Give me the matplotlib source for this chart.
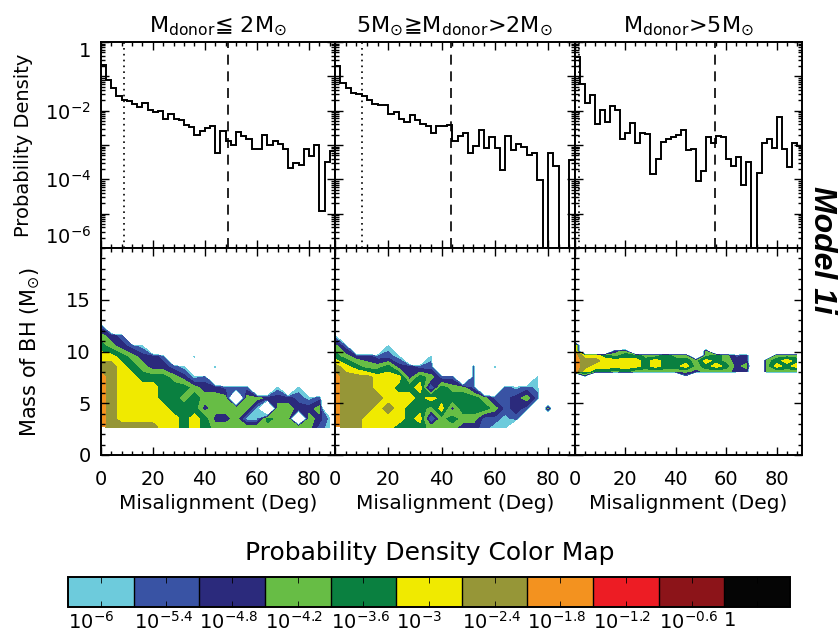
import numpy as np
import matplotlib
matplotlib.use("Agg")
import matplotlib.pyplot as plt
from matplotlib.colors import ListedColormap, BoundaryNorm
from matplotlib.ticker import FixedLocator, MultipleLocator, LogLocator, NullFormatter
import matplotlib.cm as cm

# ---------------- data ----------------
panel_titles = [r'M$_{\mathrm{donor}}$≦ 2M$_{\odot}$',
                r'5M$_{\odot}$≧M$_{\mathrm{donor}}$>2M$_{\odot}$',
                r'M$_{\mathrm{donor}}$>5M$_{\odot}$']

bin_edges = np.arange(0, 91, 2)

# log10 of probability density per 2 deg bin, None = empty bin
hist1 = [-0.68, -1.11, -1.35, -1.57, -1.69, -1.72, -1.82, -1.88, -1.77, -1.98,
         -2.05, -2.01, -2.24, -2.11, -2.24, -2.27, -2.42, -2.48, -2.71, -2.58,
         -2.51, -2.44, -3.24, -2.58, -2.87, -3.00, -2.61, -2.75, -2.82, -3.11,
         -3.11, -2.71, -3.00, -2.87, -2.98, -3.11, -3.67, -3.51, -3.59, -3.11,
         -3.33, -3.00, -4.93, -3.50, -3.17]
hist2 = [-0.70, -1.19, -1.35, -1.48, -1.50, -1.57, -1.69, -1.82, -1.84, -1.84,
         -2.10, -2.03, -2.25, -2.32, -2.13, -2.27, -2.40, -2.44, -2.64, -2.46,
         -2.46, -2.43, -2.87, -2.75, -2.66, -3.22, -3.04, -2.56, -3.09, -2.78,
         -3.09, -3.72, -2.73, -3.14, -2.97, -3.07, -3.29, -3.24, -4.03, None,
         -3.22, -3.60, None, None, -3.43]
hist3 = [-0.45, -1.21, -1.77, -1.53, -2.39, -1.98, -2.34, -1.86, -1.98, -2.83,
         -2.64, -2.35, -2.95, -2.64, -2.69, -3.84, -3.40, -2.90, -2.82, -2.78,
         -2.71, -2.56, -3.16, -3.12, -4.06, -3.77, -2.77, -2.95, -2.73, -2.78,
         -3.40, -3.62, -3.35, -4.16, -3.50, None, -3.82, -2.95, -2.83, -3.09,
         -2.19, -3.12, -3.64, -2.93, -3.02]

dotted_x = [8.8, 10.1, 1.8]
dashed_x = [48.8, 43.4, 55.4]

# 2D map: misalignment columns (deg) and BH mass rows (Msun)
mis_grid = np.arange(0, 89, 4)
mass_grid12 = [14.5, 13.5, 12.5, 11.5, 10.5, 9.5, 8.5, 7.5, 6.5, 5.5, 4.5, 3.5, 2.7]
mass_grid3 = [11.2, 10.6, 10.0, 9.6, 9.1, 8.6, 8.1, 7.7, 7.2]

# colour level index per cell ('.' = below 1e-6), top row = largest mass
map1 = [".......................",
        ".......................",
        "1......................",
        "321....................",
        "43210..................",
        "5543221..0.............",
        "665432210..0...........",
        "76554443201............",
        "765555444322111..0.0...",
        "7655554434333.33222101.",
        "7655555444233330.33223.",
        "7655555545422300433.320",
        "76666655454333333333310"]
map2 = [".......................",
        ".......................",
        ".......................",
        "0......................",
        "31...0.................",
        "4322110..0.............",
        "6543342211...1.0.......",
        "766655524311.1.....0...",
        "76665544504331..1010...",
        "76666555454444311231...",
        "7666565443524443121.3..",
        "766555545034331101.....",
        "76655544433322100......"]
map3 = [".......................",
        "7......................",
        "7...23.......3.........",
        "755434433433.34312..333",
        "766555545444354322.3454",
        "765555545445345423.3545",
        "754434333333233322.3333",
        ".2.........1...........",
        "......................."]

level_colors = ['#6dcbdc', '#3953a4', '#2b2a7c', '#67bd45', '#0a8040',
                '#f0ea00', '#969637', '#f3921f', '#ed1c24', '#8c1419', '#050505']
level_labels = [r'$10^{-6}$', r'$10^{-5.4}$', r'$10^{-4.8}$', r'$10^{-4.2}$',
                r'$10^{-3.6}$', r'$10^{-3}$', r'$10^{-2.4}$', r'$10^{-1.8}$',
                r'$10^{-1.2}$', r'$10^{-0.6}$', '1']

# ---------------- helpers ----------------
bounds = -6 + 0.6 * np.arange(12)
cmap = ListedColormap(level_colors)
norm = BoundaryNorm(bounds, cmap.N)


def to_grid(rows):
    out = []
    for r in rows:
        assert len(r) == len(mis_grid), r
        out.append([-12.0 if ch == '.' else -6 + 0.6 * int(ch) + 0.3 for ch in r])
    return np.array(out)


def to_density(vals):
    return np.array([0.0 if v is None else 10.0 ** v for v in vals])


# ---------------- figure ----------------
fig = plt.figure(figsize=(8.38, 6.37), dpi=100)

W, H = 838.0, 637.0
xpos = [(100.7, 234.3), (335.0, 239.7), (574.7, 227.3)]
top_y = (42, 248)
bot_y = (248, 455)

hists = [hist1, hist2, hist3]
maps = [map1, map2, map3]
masses = [mass_grid12, mass_grid12, mass_grid3]

for i in range(3):
    x0, w = xpos[i]
    axt = fig.add_axes([x0 / W, 1 - top_y[1] / H, w / W, (top_y[1] - top_y[0]) / H])
    axb = fig.add_axes([x0 / W, 1 - bot_y[1] / H, w / W, (bot_y[1] - bot_y[0]) / H])

    # histogram
    axt.set_yscale('log')
    axt.stairs(to_density(hists[i]), bin_edges, color='k', lw=1.4, baseline=None)
    axt.axvline(dotted_x[i], color='k', ls=(0, (1, 2.5)), lw=1.2)
    axt.axvline(dashed_x[i], color='k', ls=(0, (6, 4)), lw=1.2)
    axt.set_xlim(0, 90)
    axt.set_ylim(1e-6, 1)
    axt.set_title(panel_titles[i], fontsize=16, pad=7)

    axt.yaxis.set_major_locator(FixedLocator([1e-6, 1e-5, 1e-4, 1e-3, 1e-2, 1e-1, 1]))
    axt.yaxis.set_minor_locator(LogLocator(base=10, subs=np.arange(2, 10), numticks=20))
    axt.yaxis.set_minor_formatter(NullFormatter())
    axt.xaxis.set_major_locator(MultipleLocator(20))
    axt.xaxis.set_minor_locator(MultipleLocator(4))
    axt.set_xticklabels([])
    if i == 0:
        axt.set_yticklabels([r'$10^{-6}$', '', r'$10^{-4}$', '', r'$10^{-2}$', '', '1'])
        labs = axt.get_yticklabels()
        labs[0].set_va('bottom')
        labs[-1].set_va('top')
        axt.set_ylabel('Probability Density', fontsize=14)
        axt.yaxis.set_label_coords(-0.289, 0.5)
    else:
        axt.set_yticklabels([])

    # contour map
    z = to_grid(maps[i])
    axb.contourf(mis_grid, masses[i], z, levels=bounds, cmap=cmap, norm=norm)
    axb.set_xlim(0, 90)
    axb.set_ylim(0, 20)
    axb.xaxis.set_major_locator(FixedLocator([0, 20, 40, 60, 80]))
    axb.xaxis.set_minor_locator(MultipleLocator(4))
    axb.yaxis.set_major_locator(FixedLocator([0, 5, 10, 15]))
    axb.yaxis.set_minor_locator(MultipleLocator(1))
    axb.set_xlabel('Misalignment (Deg)', fontsize=14.5)
    axb.xaxis.set_label_coords(0.5, -0.19)
    if i == 0:
        axb.set_ylabel(r'Mass of BH (M$_{\odot}$)', fontsize=15)
        axb.yaxis.set_label_coords(-0.25, 0.5)
    else:
        axb.set_yticklabels([])

    for ax in (axt, axb):
        ax.tick_params(which='both', direction='in', top=True, right=True,
                       labelsize=14, width=1.0)
        ax.tick_params(which='major', length=6)
        ax.tick_params(which='minor', length=3)
        ax.tick_params(axis='x', pad=11)
        ax.tick_params(axis='y', pad=7)
        for s in ax.spines.values():
            s.set_linewidth(1.4)

fig.text(0.981, 0.607, 'Model 1i', rotation=-90, fontsize=23, fontweight='bold',
         fontstyle='italic', family='Liberation Sans', ha='center', va='center')

# colour bar
cax = fig.add_axes([68 / W, 1 - 607 / H, 722 / W, 30 / H])
sm = cm.ScalarMappable(norm=norm, cmap=cmap)
cb = fig.colorbar(sm, cax=cax, orientation='horizontal', ticks=bounds[:-1],
                  drawedges=True)
cb.outline.set_linewidth(1.4)
cb.dividers.set_linewidth(1.0)
cax.set_xticklabels(level_labels, ha='left', fontsize=14)
centers = 0.5 * (bounds[:-1] + bounds[1:])
cax.xaxis.set_minor_locator(FixedLocator(list(centers)))
cax.tick_params(which='both', direction='in', top=True, bottom=True, pad=3)
cax.tick_params(which='major', length=0)
cax.tick_params(which='minor', length=4)
fig.text(0.513, 0.132, 'Probability Density Color Map', fontsize=18,
         ha='center', va='center')

fig.savefig('out.png', dpi=100)
